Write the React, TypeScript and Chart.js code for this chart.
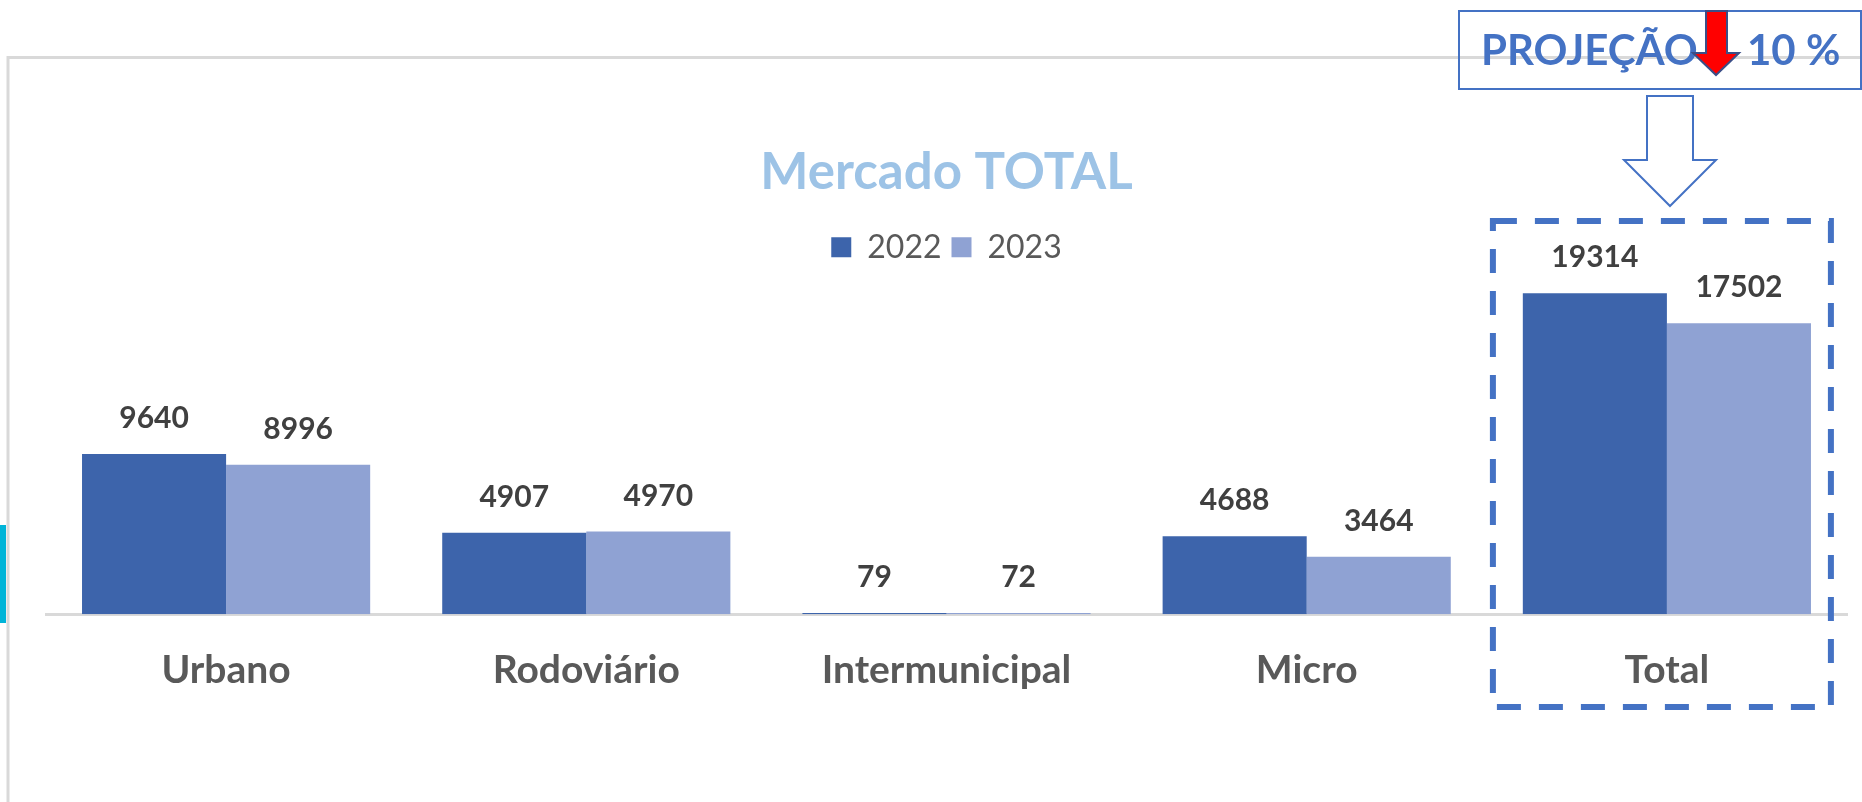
import React, { useEffect, useRef } from "react";
import { Chart, registerables } from "chart.js";

Chart.register(...registerables);

const categories = ["Urbano", "Rodoviário", "Intermunicipal", "Micro", "Total"];
const seriesNames = ["2022", "2023"];
const values2022 = [9640, 4907, 79, 4688, 19314];
const values2023 = [8996, 4970, 72, 3464, 17502];
const colors = ["#3d64ab", "#8fa2d3"];
const Y_MAX = 20520;
const titleText = "Mercado TOTAL";
const projectionLabel = "PROJEÇÃO";
const projectionValue = "10 %";

const FONT = "Lato, 'Open Sans', sans-serif";

const dataLabelPlugin = {
  id: "dataLabels",
  afterDatasetsDraw(chart: any) {
    const ctx = chart.ctx;
    ctx.save();
    ctx.font = `bold 30px ${FONT}`;
    ctx.fillStyle = "#404040";
    ctx.textAlign = "center";
    ctx.textBaseline = "alphabetic";
    chart.data.datasets.forEach((ds: any, di: number) => {
      const meta = chart.getDatasetMeta(di);
      meta.data.forEach((bar: any, i: number) => {
        ctx.fillText(String(ds.data[i]), bar.x, bar.y - 26);
      });
    });
    ctx.restore();
  },
};

const decorPlugin = {
  id: "decor",
  beforeDraw(chart: any) {
    const ctx = chart.ctx;
    ctx.save();
    ctx.strokeStyle = "#d9d9d9";
    ctx.lineWidth = 3;
    ctx.beginPath();
    ctx.moveTo(8, 802);
    ctx.lineTo(8, 57.5);
    ctx.lineTo(1862, 57.5);
    ctx.stroke();
    ctx.fillStyle = "#00b4d8";
    ctx.fillRect(0, 525, 6, 98);
    ctx.restore();
  },
  afterDraw(chart: any) {
    const ctx = chart.ctx;
    const xs = chart.scales.x;
    ctx.save();
    ctx.strokeStyle = "#4472c4";
    ctx.lineWidth = 2;
    ctx.strokeRect(1459, 11, 402, 78);
    ctx.font = `bold 42px ${FONT}`;
    ctx.fillStyle = "#4472c4";
    ctx.textBaseline = "alphabetic";
    ctx.textAlign = "left";
    ctx.fillText(projectionLabel, 1481, 65);
    ctx.fillText(projectionValue, 1747, 65);
    ctx.beginPath();
    ctx.moveTo(1706, 11);
    ctx.lineTo(1727, 11);
    ctx.lineTo(1727, 53);
    ctx.lineTo(1739, 53);
    ctx.lineTo(1716, 75);
    ctx.lineTo(1693, 53);
    ctx.lineTo(1706, 53);
    ctx.closePath();
    ctx.fillStyle = "#ff0000";
    ctx.fill();
    ctx.strokeStyle = "#3b4e87";
    ctx.lineWidth = 2;
    ctx.stroke();
    ctx.beginPath();
    ctx.moveTo(1647, 96);
    ctx.lineTo(1693, 96);
    ctx.lineTo(1693, 160);
    ctx.lineTo(1716, 160);
    ctx.lineTo(1670, 206);
    ctx.lineTo(1624, 160);
    ctx.lineTo(1647, 160);
    ctx.closePath();
    ctx.fillStyle = "#ffffff";
    ctx.fill();
    ctx.strokeStyle = "#4472c4";
    ctx.lineWidth = 2;
    ctx.stroke();
    const cx = xs.getPixelForValue(categories.length - 1);
    ctx.setLineDash([24, 18]);
    ctx.lineWidth = 6;
    ctx.strokeStyle = "#4472c4";
    ctx.strokeRect(cx - 174, 221, 338, 486);
    ctx.restore();
  },
};

export default function App() {
  const ref = useRef<HTMLCanvasElement | null>(null);
  useEffect(() => {
    if (!ref.current) return;
    const chart = new Chart(ref.current, {
      type: "bar",
      data: {
        labels: categories,
        datasets: [
          { label: seriesNames[0], data: values2022, backgroundColor: colors[0] },
          { label: seriesNames[1], data: values2023, backgroundColor: colors[1] },
        ],
      },
      options: {
        animation: false,
        responsive: true,
        maintainAspectRatio: false,
        layout: { padding: { left: 46, right: 15, top: 0, bottom: 75 } },
        datasets: { bar: { categoryPercentage: 0.8, barPercentage: 1.0 } },
        plugins: {
          title: {
            display: true,
            text: titleText,
            color: "#9dc3e6",
            font: { family: FONT, size: 51, weight: "bold" },
            padding: { top: 142, bottom: 18 },
          },
          legend: {
            display: true,
            labels: {
              color: "#595959",
              font: { family: FONT, size: 32 },
              boxWidth: 20,
              boxHeight: 20,
              padding: 10,
            },
          },
          tooltip: { enabled: false },
        },
        scales: {
          x: {
            grid: { display: false, drawTicks: false },
            border: { display: true, color: "#d9d9d9", width: 3 },
            ticks: {
              color: "#595959",
              font: { family: FONT, size: 39, weight: "bold" },
              padding: 33,
            },
          },
          y: {
            display: false,
            min: 0,
            max: Y_MAX,
          },
        },
      },
      plugins: [dataLabelPlugin, decorPlugin],
    });
    return () => chart.destroy();
  }, []);
  return (
    <div style={{ position: "fixed", left: 0, top: 0, width: 1862, height: 802, background: "#fff" }}>
      <canvas ref={ref} />
    </div>
  );
}
